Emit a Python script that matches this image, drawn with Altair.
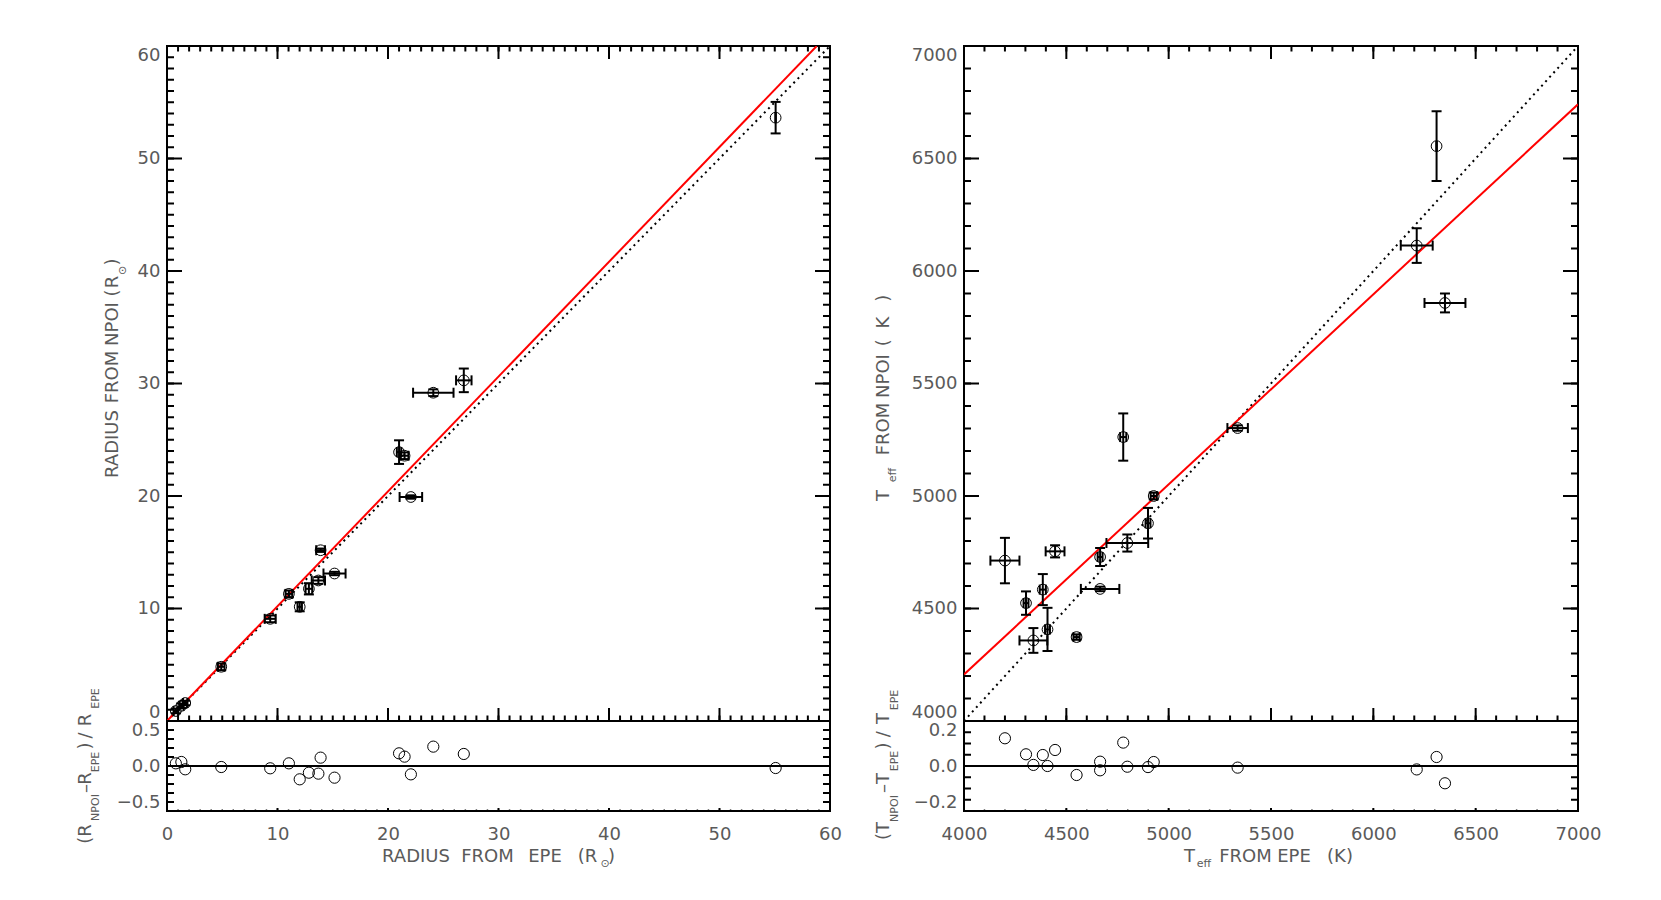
import altair as alt
import pandas as pd

# ---------------- left panel: radius ----------------
r_epe      = [0.80, 1.30, 1.65, 4.91, 9.34, 11.03, 12.01, 12.84, 13.70, 13.90, 15.16, 21.00, 21.50, 22.07, 24.10, 26.86, 55.08]
r_npoi     = [0.89, 1.35, 1.60, 4.82, 9.08, 11.30, 10.15, 11.75, 12.49, 15.18, 13.11, 23.90, 23.58, 19.91, 29.18, 30.28, 53.63]
r_epe_err  = [0.20, 0.20, 0.20, 0.30, 0.50, 0.30, 0.20, 0.30, 0.60, 0.40, 1.00, 0.20, 0.35, 1.02, 1.83, 0.70, 0.00]
r_npoi_err = [0.20, 0.20, 0.20, 0.30, 0.30, 0.30, 0.40, 0.50, 0.30, 0.15, 0.15, 1.05, 0.30, 0.15, 0.30, 1.05, 1.40]
r_resid    = [0.037, 0.056, -0.046, -0.014, -0.032, 0.037, -0.185, -0.093, -0.106, 0.116, -0.162,
              0.176, 0.130, -0.116, 0.269, 0.167, -0.028]
r_fit_x = [0, 58.8]
r_fit_y = [0, 60]
r_diag = [0, 60]
r_major = [0, 10, 20, 30, 40, 50, 60]
r_minor = list(range(0, 61))
r_res_major = [-0.5, 0.0, 0.5]
r_res_minor = [-0.625, -0.5, -0.375, -0.25, -0.125, 0, 0.125, 0.25, 0.375, 0.5, 0.625]

# ---------------- right panel: temperature ----------------
t_epe      = [4200, 4303, 4339, 4385, 4408, 4445, 4550, 4665, 4665, 4778, 4798, 4899, 4927, 5337, 6212, 6309, 6350]
t_npoi     = [4713, 4524, 4358, 4584, 4407, 4754, 4373, 4729, 4587, 5262, 4791, 4879, 5000, 5302, 6113, 6555, 5858]
t_epe_err  = [71, 12, 68, 15, 12, 46, 15, 12, 94, 15, 102, 12, 15, 50, 78, 0, 100]
t_npoi_err = [101, 52, 55, 69, 96, 27, 12, 40, 10, 105, 38, 68, 15, 12, 77, 155, 42]
t_resid    = [0.154, 0.065, 0.006, 0.061, 0.000, 0.089, -0.050, 0.024, -0.024, 0.130, -0.004,
              -0.006, 0.022, -0.009, -0.019, 0.050, -0.096]
t_fit_x = [4000, 7000]
t_fit_y = [4207, 6741]
t_diag = [4000, 7000]
t_major = [4000, 4500, 5000, 5500, 6000, 6500, 7000]
t_minor = list(range(4000, 7001, 100))
t_res_major = [-0.2, 0.0, 0.2]
t_res_minor = [-0.25, -0.1875, -0.125, -0.0625, 0, 0.0625, 0.125, 0.1875, 0.25]

FONT = "DejaVu Sans"
TXT = "#5a5a5a"
H_MAIN, H_RES = 675, 90


def label(s, x, y, size=18, angle=0):
    return alt.Chart(pd.DataFrame({"t": [s]})).mark_text(
        font=FONT, fontSize=size, color=TXT, angle=angle, align="center", baseline="alphabetic"
    ).encode(text="t:N", x=alt.value(x), y=alt.value(y))


def vtitle(pieces, xmain, xsub):
    return [label(s, xsub if sub else xmain, y, 11 if sub else 18, 270) for s, y, sub in pieces]


def htitle(pieces, ymain, ysub):
    return [label(s, x, ysub if sub else ymain, 11 if sub else 18, 0) for s, x, sub in pieces]


def axis_style(values, fmt, flush, pad):
    return alt.Axis(values=values, title=None, ticks=False, tickSize=0, domain=False, grid=False,
                    labelFlush=flush, labelPadding=pad, labelFont=FONT, labelFontSize=18,
                    labelColor=TXT, labelOverlap=False, format=fmt)


def panels(xs, ys, xe, ye, res, xdom, rdom, xmaj, xmin, rmaj, rmin, fitx, fity, diag, W,
           xfmt, rfmt, ytitle, rtitle, xtitle, extra=()):
    sx = alt.Scale(domain=xdom, nice=False, zero=False)
    sy = alt.Scale(domain=xdom, nice=False, zero=False)
    sr = alt.Scale(domain=rdom, nice=False, zero=False)
    ax_main_y = axis_style(xmaj, "d", True, 7)
    ax_res_x = axis_style(xmaj, xfmt, False, 14)
    ax_res_y = axis_style(rmaj, rfmt, False, 7)

    df = pd.DataFrame({"x": xs, "y": ys, "xe": xe, "ye": ye, "r": res})
    base = alt.Chart(df).transform_calculate(
        xlo="datum.x - datum.xe", xhi="datum.x + datum.xe",
        ylo="datum.y - datum.ye", yhi="datum.y + datum.ye")

    # main panel encodings: no x axis, labelled y axis
    X = lambda f: alt.X(f, type="quantitative", scale=sx, axis=None)
    Y = lambda f: alt.Y(f, type="quantitative", scale=sy, axis=ax_main_y)

    def xt(vals, y0, y1, sw=2):
        return alt.Chart(pd.DataFrame({"v": vals})).mark_rule(color="black", strokeWidth=sw).encode(
            x=X("v"), y=alt.value(y0), y2=alt.value(y1))

    def yt(vals, x0, x1):
        return alt.Chart(pd.DataFrame({"v": vals})).mark_rule(color="black", strokeWidth=2).encode(
            y=Y("v"), x=alt.value(x0), x2=alt.value(x1))

    pts = alt.Chart(df).mark_point(shape="circle", filled=False, size=115, color="black",
                                   strokeWidth=1, opacity=1).encode(x=X("x"), y=Y("y"))
    ticks = [
        xt(xmaj, 0, 13), xt(xmin, 0, 5.5),
        xt(xmaj, H_MAIN, H_MAIN - 13), xt(xmin, H_MAIN, H_MAIN - 5.5),
        yt(xmaj, 0, 15), yt(xmin, 0, 7),
        yt(xmaj, W, W - 15), yt(xmin, W, W - 7),
    ]
    diag_l = alt.Chart(pd.DataFrame({"x": diag, "y": diag})).mark_line(
        color="black", strokeWidth=2, strokeDash=[2, 4], clip=True).encode(x=X("x"), y=Y("y"))
    fit_l = alt.Chart(pd.DataFrame({"x": fitx, "y": fity})).mark_line(
        color="#ff0000", strokeWidth=2, clip=True).encode(x=X("x"), y=Y("y"))
    ebar_y = base.mark_rule(color="black", strokeWidth=2).encode(x=X("x"), y=Y("ylo"), y2="yhi")
    ecap_lo = base.mark_rule(color="black", strokeWidth=2, xOffset=-5, x2Offset=5).encode(x=X("x"), x2="x", y=Y("ylo"))
    ecap_hi = base.mark_rule(color="black", strokeWidth=2, xOffset=-5, x2Offset=5).encode(x=X("x"), x2="x", y=Y("yhi"))
    ebar_x = base.mark_rule(color="black", strokeWidth=2).encode(x=X("xlo"), x2="xhi", y=Y("y"))
    xcap_lo = base.mark_rule(color="black", strokeWidth=2, yOffset=-5, y2Offset=5).encode(x=X("xlo"), y=Y("y"), y2="y")
    xcap_hi = base.mark_rule(color="black", strokeWidth=2, yOffset=-5, y2Offset=5).encode(x=X("xhi"), y=Y("y"), y2="y")

    main = alt.layer(*ticks, diag_l, fit_l, ebar_y, ecap_lo, ecap_hi, ebar_x, xcap_lo, xcap_hi, pts,
                     *ytitle, *extra).properties(width=W, height=H_MAIN)

    # residual panel encodings
    RX = lambda f: alt.X(f, type="quantitative", scale=sx, axis=ax_res_x)
    RY = lambda f: alt.Y(f, type="quantitative", scale=sr, axis=ax_res_y)

    def rxt(vals, y0, y1, sw):
        return alt.Chart(pd.DataFrame({"v": vals})).mark_rule(color="black", strokeWidth=sw).encode(
            x=RX("v"), y=alt.value(y0), y2=alt.value(y1))

    def ryt(vals, x0, x1):
        return alt.Chart(pd.DataFrame({"v": vals})).mark_rule(color="black", strokeWidth=2).encode(
            y=RY("v"), x=alt.value(x0), x2=alt.value(x1))

    rticks = [ryt(rmin, 0, 7), ryt(rmin, W, W - 7), rxt(xmaj, H_RES, H_RES - 3, 2), rxt(xmin, H_RES, H_RES - 1.5, 1.5)]
    zero = alt.Chart(pd.DataFrame({"v": [0]})).mark_rule(color="black", strokeWidth=2).encode(y=RY("v"))
    rpts = alt.Chart(df).mark_point(shape="circle", filled=False, size=125, color="black",
                                    strokeWidth=1, opacity=1).encode(x=RX("x"), y=RY("r"))
    resid = alt.layer(zero, *rticks, rpts, *rtitle, *xtitle).properties(width=W, height=H_RES)
    return main, resid


anchor = alt.Chart(pd.DataFrame({"a": [0]})).mark_rule(color="white", strokeWidth=1).encode(
    x=alt.value(-152.5), x2=alt.value(-152.5), y=alt.value(-31.5), y2=alt.value(0))

mainL, resL = panels(
    r_epe, r_npoi, r_epe_err, r_npoi_err, r_resid, [0, 60], [-0.625, 0.625],
    r_major, r_minor, r_res_major, r_res_minor, r_fit_x, r_fit_y, r_diag, 663, "d", ".1f",
    vtitle([("RADIUS", 398, False), ("FROM", 331, False), ("NPOI", 278, False),
            ("(", 247, False), ("R", 236, False), ("\u2299", 224.5, True), (")", 216, False)], -49, -41),
    vtitle([("(R", 113, False), ("NPOI", 86.5, True), ("\u2013", 67.5, False), ("R", 57.5, False),
            ("EPE", 41, True), (")", 25, False), ("/", 14.5, False), ("R", -1, False),
            ("EPE", -22.5, True)], -76, -68),
    htitle([("RADIUS", 249, False), ("FROM", 320.5, False), ("EPE", 378, False), ("(R", 420.5, False),
            ("\u2299", 438, True), (")", 444.5, False)], 141, 146),
    extra=(anchor,))

mainR, resR = panels(
    t_epe, t_npoi, t_epe_err, t_npoi_err, t_resid, [4000, 7000], [-0.25, 0.25],
    t_major, t_minor, t_res_major, t_res_minor, t_fit_x, t_fit_y, t_diag, 614, "d", ".1f",
    vtitle([("T", 449.5, False), ("eff", 429, True), ("FROM", 383, False), ("NPOI", 330, False),
            ("(", 296.7, False), ("K", 276.7, False), (")", 252.3, False)], -75, -68),
    vtitle([("(T", 110, False), ("NPOI", 87.5, True), ("\u2013", 67.5, False), ("T", 57.5, False),
            ("EPE", 40, True), (")", 25, False), ("/", 13.3, False), ("T", -2.5, False),
            ("EPE", -21, True)], -75, -66),
    htitle([("T", 225.5, False), ("eff", 240, True), ("FROM", 281.5, False), ("EPE", 330, False),
            ("(K)", 376, False)], 141, 146))

chart = alt.concat(mainL, mainR, resL, resR, columns=2, spacing={"row": 0, "column": 134},
                   bounds="flush", align="each").configure_view(
    stroke="black", strokeWidth=2).properties(background="white")

chart.save("out.html", embed_options={"renderer": "svg", "actions": False})
